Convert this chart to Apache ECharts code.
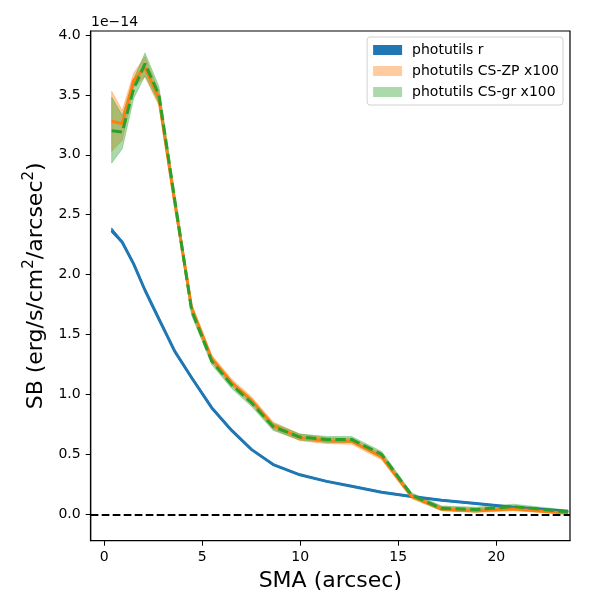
<!DOCTYPE html>
<html>
<head>
<meta charset="utf-8">
<script src="https://cdn.jsdelivr.net/npm/echarts@6/dist/echarts.min.js"></script>
<style>
  html, body { margin: 0; padding: 0; background: #fff; }
  #chart { width: 600px; height: 600px; }
</style>
</head>
<body>
<div id="chart"></div>
<script>
// SMA in arcsec, SB in units of 1e-14
var sma = [0.38, 0.92, 1.5, 2.08, 2.79, 3.6, 4.46, 5.48, 6.5, 7.52, 8.62, 9.98, 11.35, 12.62, 14.15, 15.68, 17.21, 18.96, 20.87, 23.66];

var fluxR = [2.37, 2.27, 2.09, 1.87, 1.63, 1.36, 1.14, 0.89, 0.70, 0.54, 0.415, 0.33, 0.275, 0.235, 0.185, 0.148, 0.118, 0.09, 0.06, 0.025];
var rLo   = [2.35, 2.26, 2.08, 1.86, 1.62, 1.35, 1.13, 0.88, 0.69, 0.535, 0.41, 0.325, 0.27, 0.23, 0.18, 0.143, 0.113, 0.085, 0.055, 0.02];
var rHi   = [2.39, 2.28, 2.10, 1.88, 1.64, 1.37, 1.15, 0.90, 0.71, 0.545, 0.42, 0.335, 0.28, 0.24, 0.19, 0.153, 0.123, 0.095, 0.065, 0.03];

var fluxZP = [3.28, 3.26, 3.62, 3.73, 3.47, 2.60, 1.72, 1.30, 1.10, 0.95, 0.74, 0.64, 0.615, 0.61, 0.48, 0.15, 0.045, 0.03, 0.045, 0.01];
var zpLo   = [3.03, 3.12, 3.56, 3.65, 3.41, 2.55, 1.68, 1.27, 1.07, 0.92, 0.71, 0.615, 0.59, 0.585, 0.455, 0.13, 0.03, 0.015, 0.03, 0.0];
var zpHi   = [3.53, 3.37, 3.68, 3.82, 3.53, 2.65, 1.76, 1.33, 1.13, 0.98, 0.77, 0.67, 0.64, 0.635, 0.51, 0.17, 0.065, 0.05, 0.065, 0.025];

var fluxGR = [3.20, 3.19, 3.55, 3.76, 3.50, 2.62, 1.70, 1.28, 1.08, 0.93, 0.73, 0.645, 0.625, 0.625, 0.50, 0.16, 0.05, 0.04, 0.065, 0.02];
var grLo   = [2.93, 3.05, 3.47, 3.66, 3.43, 2.56, 1.66, 1.25, 1.05, 0.90, 0.70, 0.62, 0.60, 0.60, 0.475, 0.14, 0.03, 0.02, 0.045, 0.005];
var grHi   = [3.48, 3.33, 3.63, 3.85, 3.57, 2.68, 1.74, 1.31, 1.11, 0.96, 0.76, 0.67, 0.65, 0.65, 0.525, 0.18, 0.07, 0.06, 0.085, 0.035];

var xTicks = [0, 5, 10, 15, 20];

var font = 'DejaVu Sans';

function pairs(ys) {
  return sma.map(function (x, i) { return [x, ys[i]]; });
}

// fill_between as one polygon, drawn once through the axis scales
function band(name, lo, hi, fill) {
  return {
    name: name, type: 'custom', silent: true, z: 1, clip: true,
    itemStyle: { color: fill },
    data: sma.map(function (x, i) { return [x, lo[i], hi[i]]; }),
    encode: { x: 0, y: [1, 2] },
    renderItem: function (params, api) {
      if (params.dataIndex !== 0) return null;
      var pts = [];
      for (var i = 0; i < sma.length; i++) pts.push(api.coord([sma[i], hi[i]]));
      for (var j = sma.length - 1; j >= 0; j--) pts.push(api.coord([sma[j], lo[j]]));
      return {
        type: 'polygon',
        shape: { points: pts },
        style: { fill: fill, stroke: fill, lineWidth: 0.8 }
      };
    }
  };
}

var chart = echarts.init(document.getElementById('chart'));

var series = [
  band('photutils r', rLo, rHi, '#1f77b4'),
  band('photutils CS-ZP x100', zpLo, zpHi, 'rgba(255,127,14,0.4)'),
  band('photutils CS-gr x100', grLo, grHi, 'rgba(44,160,44,0.4)'),
  {
    name: 'r_line', type: 'line', data: pairs(fluxR), showSymbol: false,
    lineStyle: { color: '#1f77b4', width: 3 }, z: 3,
    markLine: {
      silent: true, symbol: 'none', label: { show: false },
      lineStyle: { color: '#000', type: [7.7, 3.3], width: 2 },
      data: [{ yAxis: 0 }]
    }
  }, {
    name: 'zp_line', type: 'line', data: pairs(fluxZP), showSymbol: false,
    lineStyle: { color: '#ff7f0e', width: 3 }, z: 4
  }, {
    name: 'gr_line', type: 'line', data: pairs(fluxGR), showSymbol: false,
    lineStyle: { color: '#2ca02c', width: 3, type: [10.3, 4.4] }, z: 5
  }
];

chart.setOption({
  animation: false,
  textStyle: { fontFamily: font },
  title: {
    text: '1e\u221214', left: 86, top: 10,
    textStyle: { fontFamily: font, fontSize: 14, fontWeight: 'normal', color: '#000' }
  },
  legend: {
    right: 37, top: 37, orient: 'vertical',
    padding: [6, 4, 6, 6], itemGap: 7, itemWidth: 29, itemHeight: 10,
    borderColor: '#d0d0d0', borderWidth: 1, borderRadius: 3,
    textStyle: { fontFamily: font, fontSize: 14, color: '#000', padding: [0, 0, 0, 5] },
    data: [
      { name: 'photutils r', icon: 'rect', itemStyle: { color: '#1f77b4', borderWidth: 0 } },
      { name: 'photutils CS-ZP x100', icon: 'rect', itemStyle: { color: '#ffcc9f', borderWidth: 0 } },
      { name: 'photutils CS-gr x100', icon: 'rect', itemStyle: { color: '#abd9ab', borderWidth: 0 } }
    ]
  },
  grid: {
    left: 90.7, right: 30, top: 31, bottom: 59.3,
    show: true, borderColor: '#000', borderWidth: 1.2, backgroundColor: 'transparent'
  },
  xAxis: {
    type: 'value', min: -0.69, max: 23.76,
    minInterval: 5, maxInterval: 5,
    name: 'SMA (arcsec)', nameLocation: 'middle', nameGap: 30,
    nameTextStyle: { fontFamily: font, fontSize: 22, color: '#000' },
    axisLine: { show: true, onZero: false, lineStyle: { color: '#000', width: 1.2 } },
    axisTick: { show: true, length: 5, lineStyle: { color: '#000', width: 1 },
      customValues: xTicks },
    axisLabel: { color: '#000', fontSize: 14, fontFamily: font, margin: 10,
      customValues: xTicks,
      formatter: function (v) { return xTicks.indexOf(v) >= 0 ? String(v) : ''; } },
    splitLine: { show: false }
  },
  yAxis: {
    type: 'value', min: -0.22, max: 4.033,
    minInterval: 0.5, maxInterval: 0.5,
    name: '{n|SB (erg/s/cm}{s|2}{n|/arcsec}{s|2}{n|)}',
    nameLocation: 'middle', nameGap: 36,
    nameTextStyle: {
      color: '#000',
      rich: {
        n: { fontFamily: font, fontSize: 22, lineHeight: 30, color: '#000' },
        s: { fontFamily: font, fontSize: 15, lineHeight: 15, verticalAlign: 'top', color: '#000' }
      }
    },
    axisLine: { show: true, onZero: false, lineStyle: { color: '#000', width: 1.2 } },
    axisTick: { show: true, length: 5, lineStyle: { color: '#000', width: 1 } },
    axisLabel: { color: '#000', fontSize: 14, fontFamily: font, margin: 10,
      showMinLabel: false, showMaxLabel: false,
      formatter: function (v) {
        var r = Math.round(v * 2) / 2;
        return Math.abs(r - v) < 1e-6 ? v.toFixed(1) : '';
      } },
    splitLine: { show: false }
  },
  series: series
});
</script>
</body>
</html>
